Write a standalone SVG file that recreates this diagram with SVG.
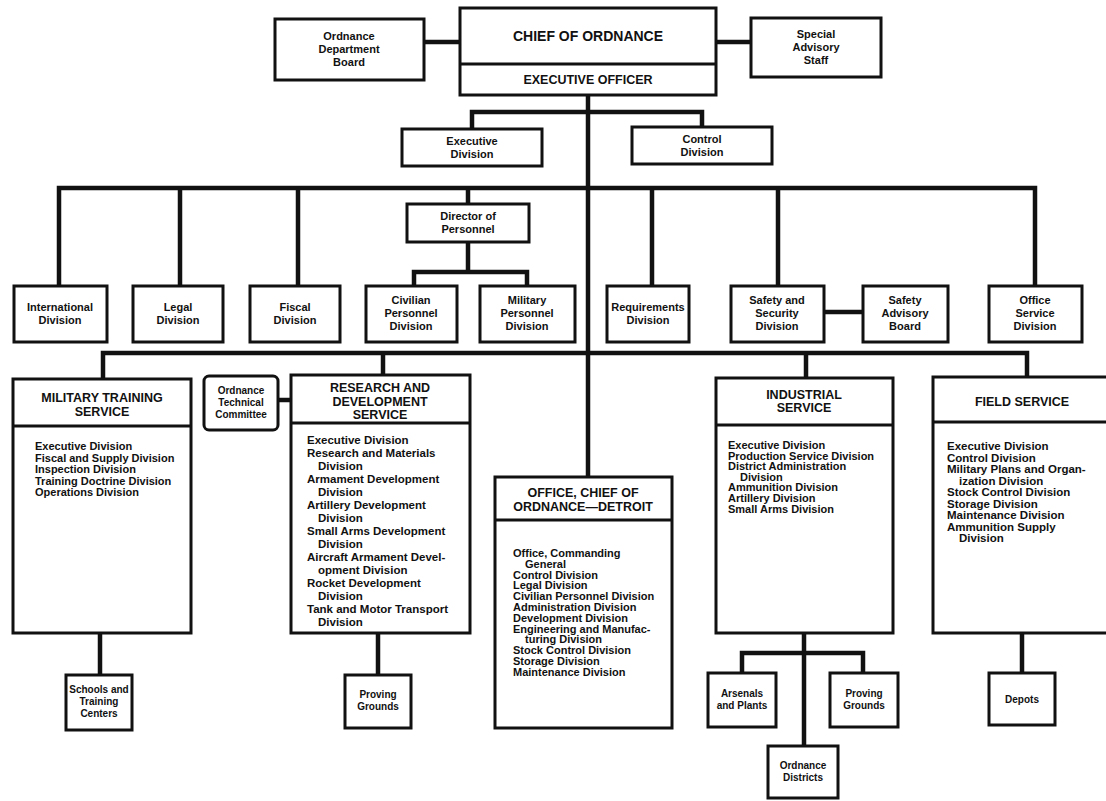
<svg xmlns="http://www.w3.org/2000/svg" width="1106" height="801" viewBox="0 0 1106 801">
  <style>
    .box { fill: #fff; stroke: #111; stroke-width: 3; }
    .rule { stroke: #111; stroke-width: 3; }
    .ln { fill: none; stroke: #111; stroke-width: 4.5; stroke-linecap: square; }
    text { font-family: "Liberation Sans", Arial, sans-serif; font-weight: bold; fill: #111; }
    .c { text-anchor: middle; font-size: 11px; }
    .cs { text-anchor: middle; font-size: 10px; }
    .h { text-anchor: middle; font-size: 12.5px; }
    .hb { text-anchor: middle; font-size: 14px; }
    .li { font-size: 11px; }
    .lr { font-size: 11.5px; }
  </style>
  <rect width="1106" height="801" fill="#fff"/>

  <!-- connectors -->
  <g id="connectors">
    <path class="ln" d="M424 42 H460 M716 42 H751"/>
    <path class="ln" d="M588 95 V477"/>
    <path class="ln" d="M472 112 H702 M472 112 V129 M702 112 V127"/>
    <path class="ln" d="M59 188 H1035 M59 188 V286 M180 188 V286 M298 188 V286 M468 188 V204 M652 188 V286 M778 188 V286 M1035 188 V286"/>
    <path class="ln" d="M468 242 V272 M414 272 H527 M414 272 V286 M527 272 V286"/>
    <path class="ln" d="M824 312 H863"/>
    <path class="ln" d="M103 353 H1027 M103 353 V379 M383 353 V375 M806 353 V378 M1027 353 V377"/>
    <path class="ln" d="M278 400 H291"/>
    <path class="ln" d="M100 633 V675 M378 633 V675 M1022 633 V673"/>
    <path class="ln" d="M804 633 V746 M742 653 H863 M742 653 V673 M863 653 V673"/>
  </g>

  <!-- top level -->
  <g id="ordnance-department-board">
    <rect class="box" x="275" y="19" width="149" height="61"/>
    <text class="c" x="349" y="40">Ordnance<tspan x="349" dy="13">Department</tspan><tspan x="349" dy="13">Board</tspan></text>
  </g>
  <g id="chief-of-ordnance">
    <rect class="box" x="460" y="8" width="256" height="87"/>
    <line class="rule" x1="460" y1="64" x2="716" y2="64"/>
    <text class="hb" x="588" y="41">CHIEF OF ORDNANCE</text>
    <text class="h" x="588" y="84">EXECUTIVE OFFICER</text>
  </g>
  <g id="special-advisory-staff">
    <rect class="box" x="751" y="18" width="130" height="59"/>
    <text class="c" x="816" y="38">Special<tspan x="816" dy="13">Advisory</tspan><tspan x="816" dy="13">Staff</tspan></text>
  </g>
  <g id="executive-division">
    <rect class="box" x="402" y="129" width="140" height="37"/>
    <text class="c" x="472" y="145">Executive<tspan x="472" dy="13">Division</tspan></text>
  </g>
  <g id="control-division">
    <rect class="box" x="632" y="127" width="140" height="37"/>
    <text class="c" x="702" y="143">Control<tspan x="702" dy="13">Division</tspan></text>
  </g>

  <!-- staff divisions -->
  <g id="international-division">
    <rect class="box" x="14" y="286" width="93" height="56"/>
    <text class="c" x="60" y="311">International<tspan x="60" dy="13">Division</tspan></text>
  </g>
  <g id="legal-division">
    <rect class="box" x="133" y="286" width="90" height="56"/>
    <text class="c" x="178" y="311">Legal<tspan x="178" dy="13">Division</tspan></text>
  </g>
  <g id="fiscal-division">
    <rect class="box" x="250" y="286" width="90" height="56"/>
    <text class="c" x="295" y="311">Fiscal<tspan x="295" dy="13">Division</tspan></text>
  </g>
  <g id="director-of-personnel">
    <rect class="box" x="407" y="204" width="122" height="38"/>
    <text class="c" x="468" y="220">Director of<tspan x="468" dy="13">Personnel</tspan></text>
  </g>
  <g id="civilian-personnel-division">
    <rect class="box" x="366" y="286" width="91" height="56"/>
    <text class="c" x="411" y="304">Civilian<tspan x="411" dy="13">Personnel</tspan><tspan x="411" dy="13">Division</tspan></text>
  </g>
  <g id="military-personnel-division">
    <rect class="box" x="480" y="286" width="95" height="56"/>
    <text class="c" x="527" y="304">Military<tspan x="527" dy="13">Personnel</tspan><tspan x="527" dy="13">Division</tspan></text>
  </g>
  <g id="requirements-division">
    <rect class="box" x="607" y="286" width="82" height="56"/>
    <text class="c" x="648" y="311">Requirements<tspan x="648" dy="13">Division</tspan></text>
  </g>
  <g id="safety-and-security-division">
    <rect class="box" x="731" y="286" width="93" height="56"/>
    <text class="c" x="777" y="304">Safety and<tspan x="777" dy="13">Security</tspan><tspan x="777" dy="13">Division</tspan></text>
  </g>
  <g id="safety-advisory-board">
    <rect class="box" x="863" y="286" width="85" height="56"/>
    <text class="c" x="905" y="304">Safety<tspan x="905" dy="13">Advisory</tspan><tspan x="905" dy="13">Board</tspan></text>
  </g>
  <g id="office-service-division">
    <rect class="box" x="989" y="286" width="93" height="56"/>
    <text class="c" x="1035" y="304">Office<tspan x="1035" dy="13">Service</tspan><tspan x="1035" dy="13">Division</tspan></text>
  </g>

  <!-- services -->
  <g id="military-training-service">
    <rect class="box" x="13" y="379" width="178" height="254"/>
    <line class="rule" x1="13" y1="426" x2="191" y2="426"/>
    <text class="h" x="102" y="402">MILITARY TRAINING<tspan x="102" dy="14">SERVICE</tspan></text>
    <text class="li" x="35" y="450">Executive Division<tspan x="35" dy="11.5">Fiscal and Supply Division</tspan><tspan x="35" dy="11.5">Inspection Division</tspan><tspan x="35" dy="11.5">Training Doctrine Division</tspan><tspan x="35" dy="11.5">Operations Division</tspan></text>
  </g>
  <g id="ordnance-technical-committee">
    <rect class="box" x="204" y="376" width="74" height="54" rx="5"/>
    <text class="cs" x="241" y="394">Ordnance<tspan x="241" dy="12">Technical</tspan><tspan x="241" dy="12">Committee</tspan></text>
  </g>
  <g id="research-and-development-service">
    <rect class="box" x="291" y="375" width="179" height="258"/>
    <line class="rule" x1="291" y1="423" x2="470" y2="423"/>
    <text class="h" x="380" y="392">RESEARCH AND<tspan x="380" dy="13.5">DEVELOPMENT</tspan><tspan x="380" dy="13.5">SERVICE</tspan></text>
    <text class="lr" x="307" y="444">Executive Division<tspan x="307" dy="13">Research and Materials</tspan><tspan x="318" dy="13">Division</tspan><tspan x="307" dy="13">Armament Development</tspan><tspan x="318" dy="13">Division</tspan><tspan x="307" dy="13">Artillery Development</tspan><tspan x="318" dy="13">Division</tspan><tspan x="307" dy="13">Small Arms Development</tspan><tspan x="318" dy="13">Division</tspan><tspan x="307" dy="13">Aircraft Armament Devel-</tspan><tspan x="318" dy="13">opment Division</tspan><tspan x="307" dy="13">Rocket Development</tspan><tspan x="318" dy="13">Division</tspan><tspan x="307" dy="13">Tank and Motor Transport</tspan><tspan x="318" dy="13">Division</tspan></text>
  </g>
  <g id="office-chief-of-ordnance-detroit">
    <rect class="box" x="495" y="477" width="177" height="251"/>
    <line class="rule" x1="495" y1="520" x2="672" y2="520"/>
    <text class="h" x="583" y="497">OFFICE, CHIEF OF<tspan x="583" dy="14">ORDNANCE—DETROIT</tspan></text>
    <text class="li" x="513" y="557">Office, Commanding<tspan x="525" dy="10.8">General</tspan><tspan x="513" dy="10.8">Control Division</tspan><tspan x="513" dy="10.8">Legal Division</tspan><tspan x="513" dy="10.8">Civilian Personnel Division</tspan><tspan x="513" dy="10.8">Administration Division</tspan><tspan x="513" dy="10.8">Development Division</tspan><tspan x="513" dy="10.8">Engineering and Manufac-</tspan><tspan x="525" dy="10.8">turing Division</tspan><tspan x="513" dy="10.8">Stock Control Division</tspan><tspan x="513" dy="10.8">Storage Division</tspan><tspan x="513" dy="10.8">Maintenance Division</tspan></text>
  </g>
  <g id="industrial-service">
    <rect class="box" x="716" y="378" width="177" height="255"/>
    <line class="rule" x1="716" y1="425" x2="893" y2="425"/>
    <text class="h" x="804" y="399">INDUSTRIAL<tspan x="804" dy="13">SERVICE</tspan></text>
    <text class="li" x="728" y="449">Executive Division<tspan x="728" dy="10.6">Production Service Division</tspan><tspan x="728" dy="10.6">District Administration</tspan><tspan x="740" dy="10.6">Division</tspan><tspan x="728" dy="10.6">Ammunition Division</tspan><tspan x="728" dy="10.6">Artillery Division</tspan><tspan x="728" dy="10.6">Small Arms Division</tspan></text>
  </g>
  <g id="field-service">
    <rect class="box" x="933" y="377" width="190" height="256"/>
    <line class="rule" x1="933" y1="422" x2="1110" y2="422"/>
    <text class="h" x="1022" y="406">FIELD SERVICE</text>
    <text class="lr" x="947" y="450">Executive Division<tspan x="947" dy="11.5">Control Division</tspan><tspan x="947" dy="11.5">Military Plans and Organ-</tspan><tspan x="959" dy="11.5">ization Division</tspan><tspan x="947" dy="11.5">Stock Control Division</tspan><tspan x="947" dy="11.5">Storage Division</tspan><tspan x="947" dy="11.5">Maintenance Division</tspan><tspan x="947" dy="11.5">Ammunition Supply</tspan><tspan x="959" dy="11.5">Division</tspan></text>
  </g>

  <!-- field establishments -->
  <g id="schools-and-training-centers">
    <rect class="box" x="66" y="675" width="66" height="55"/>
    <text class="cs" x="99" y="693">Schools and<tspan x="99" dy="12">Training</tspan><tspan x="99" dy="12">Centers</tspan></text>
  </g>
  <g id="proving-grounds-rd">
    <rect class="box" x="345" y="675" width="66" height="53"/>
    <text class="cs" x="378" y="698">Proving<tspan x="378" dy="12">Grounds</tspan></text>
  </g>
  <g id="arsenals-and-plants">
    <rect class="box" x="708" y="673" width="68" height="54"/>
    <text class="cs" x="742" y="697">Arsenals<tspan x="742" dy="12">and Plants</tspan></text>
  </g>
  <g id="proving-grounds-industrial">
    <rect class="box" x="830" y="673" width="68" height="54"/>
    <text class="cs" x="864" y="697">Proving<tspan x="864" dy="12">Grounds</tspan></text>
  </g>
  <g id="ordnance-districts">
    <rect class="box" x="768" y="746" width="70" height="52"/>
    <text class="cs" x="803" y="769">Ordnance<tspan x="803" dy="12">Districts</tspan></text>
  </g>
  <g id="depots">
    <rect class="box" x="989" y="673" width="66" height="52"/>
    <text class="cs" x="1022" y="703">Depots</text>
  </g>
</svg>
